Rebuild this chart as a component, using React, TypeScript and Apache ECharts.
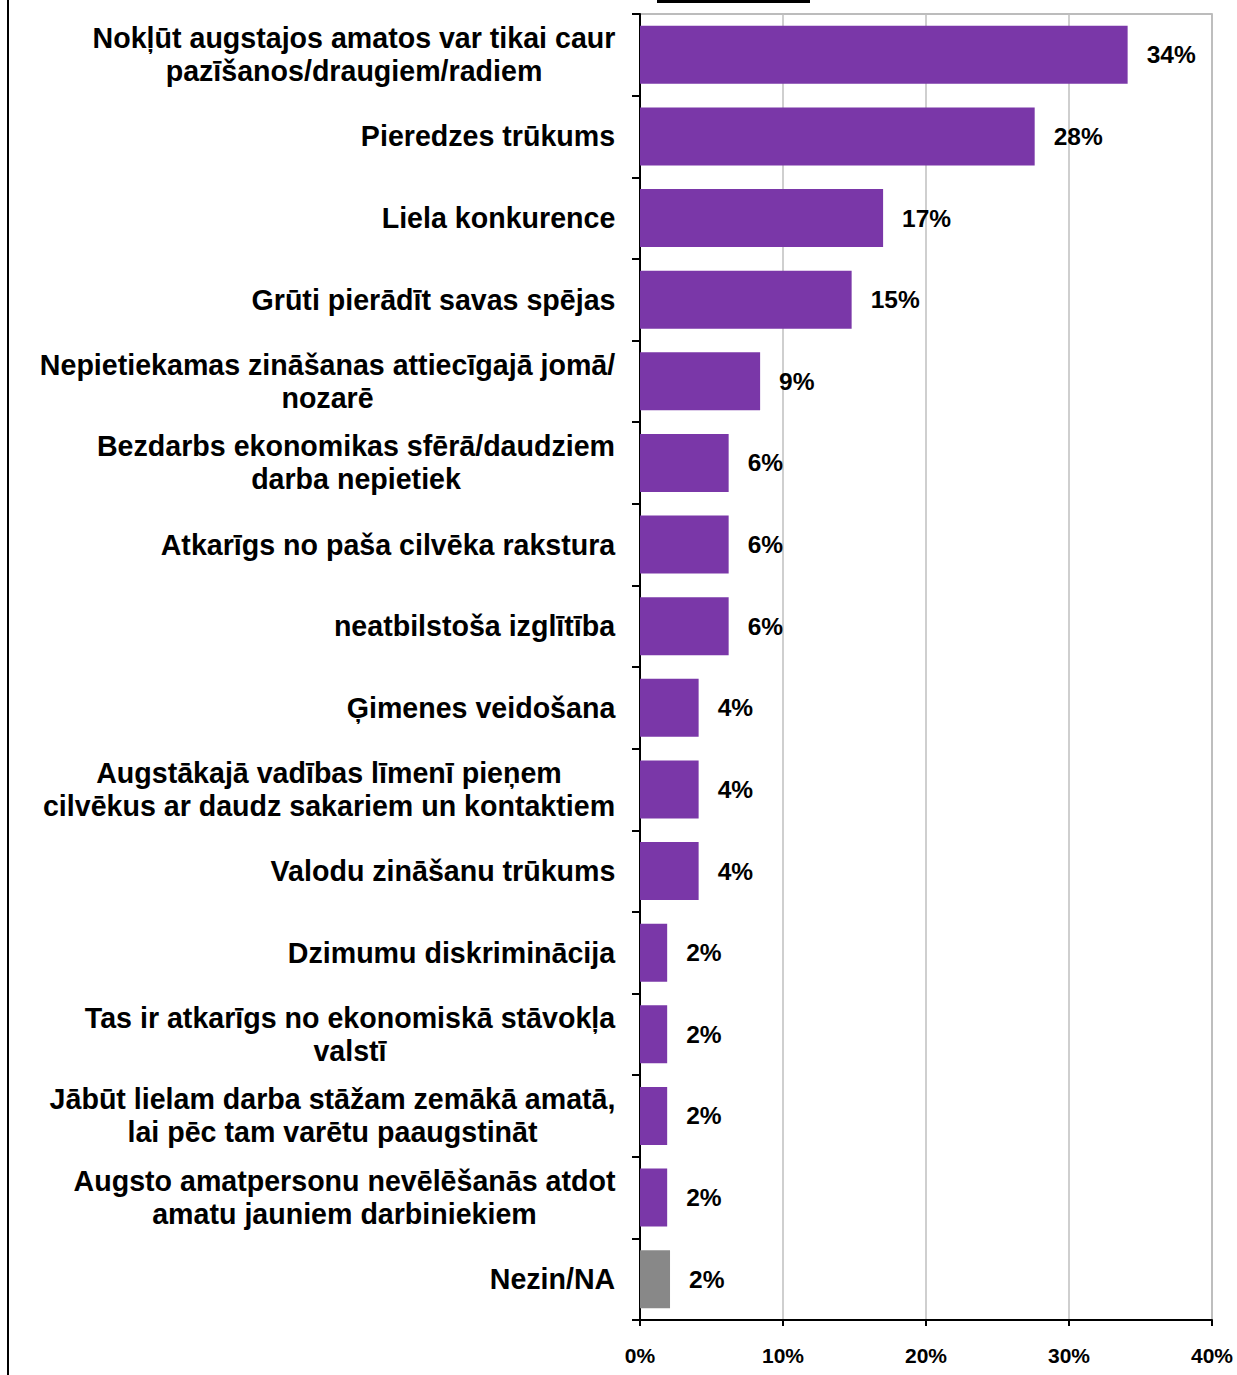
import React, { useEffect, useRef } from "react";
import * as echarts from "echarts";

const categories: string[] = [
  "Nokļūt augstajos amatos var tikai caur\npazīšanos/draugiem/radiem",
  "Pieredzes trūkums",
  "Liela konkurence",
  "Grūti pierādīt savas spējas",
  "Nepietiekamas zināšanas attiecīgajā jomā/\nnozarē",
  "Bezdarbs ekonomikas sfērā/daudziem\ndarba nepietiek",
  "Atkarīgs no paša cilvēka rakstura",
  "neatbilstoša izglītība",
  "Ģimenes veidošana",
  "Augstākajā vadības līmenī pieņem\ncilvēkus ar daudz sakariem un kontaktiem",
  "Valodu zināšanu trūkums",
  "Dzimumu diskriminācija",
  "Tas ir atkarīgs no ekonomiskā stāvokļa\nvalstī",
  "Jābūt lielam darba stāžam zemākā amatā,\nlai pēc tam varētu paaugstināt",
  "Augsto amatpersonu nevēlēšanās atdot\namatu jauniem darbiniekiem",
  "Nezin/NA",
];

const values: number[] = [34.1, 27.6, 17.0, 14.8, 8.4, 6.2, 6.2, 6.2, 4.1, 4.1, 4.1, 1.9, 1.9, 1.9, 1.9, 2.1];
const valueLabels: string[] = ["34%", "28%", "17%", "15%", "9%", "6%", "6%", "6%", "4%", "4%", "4%", "2%", "2%", "2%", "2%", "2%"];
const barColors: string[] = [
  "#7a37a8", "#7a37a8", "#7a37a8", "#7a37a8", "#7a37a8", "#7a37a8", "#7a37a8", "#7a37a8",
  "#7a37a8", "#7a37a8", "#7a37a8", "#7a37a8", "#7a37a8", "#7a37a8", "#7a37a8", "#888888",
];
const xTicks = { min: 0, max: 40, interval: 10 };

const FONT = '"Liberation Sans", Arial, sans-serif';
const CAT_SIZE = 28.6;

export default function App() {
  const ref = useRef<HTMLDivElement>(null);
  useEffect(() => {
    if (!ref.current) return;
    const chart = echarts.init(ref.current, undefined, { renderer: "svg" });

    const canvas = document.createElement("canvas");
    const ctx = canvas.getContext("2d")!;
    ctx.font = `bold ${CAT_SIZE}px ${FONT}`;
    const rich: Record<string, any> = {};
    categories.forEach((c, i) => {
      const w = Math.max(...c.split("\n").map((l) => ctx.measureText(l).width));
      rich["c" + i] = {
        width: Math.ceil(w) + 1,
        align: "center",
        fontSize: CAT_SIZE,
        fontWeight: "bold",
        fontFamily: FONT,
        color: "#000",
        lineHeight: 33,
      };
    });

    chart.setOption({
      animation: false,
      grid: {
        left: 640,
        right: 25,
        top: 14,
        bottom: 55,
        show: true,
        borderColor: "#a6a6a6",
        borderWidth: 1.5,
        containLabel: false,
      },
      xAxis: {
        type: "value",
        min: xTicks.min,
        max: xTicks.max,
        interval: xTicks.interval,
        axisLine: { show: true, lineStyle: { color: "#000", width: 2 } },
        axisTick: { show: true, length: 6, lineStyle: { color: "#000", width: 2 } },
        splitLine: { show: true, lineStyle: { color: "#bfbfbf", width: 1.5 } },
        axisLabel: {
          formatter: "{value}%",
          fontSize: 21,
          fontWeight: "bold",
          fontFamily: FONT,
          color: "#000",
          margin: 25,
        },
      },
      yAxis: {
        type: "category",
        inverse: true,
        data: categories,
        axisLine: { show: true, lineStyle: { color: "#000", width: 2 } },
        axisTick: { show: true, length: 8, alignWithLabel: false, lineStyle: { color: "#000", width: 2 } },
        axisLabel: {
          margin: 24,
          interval: 0,
          formatter: (v: string, i: number) =>
            v.split("\n").map((l) => `{c${i}|${l}}`).join("\n"),
          rich,
        },
      },
      graphic: [
        { type: "line", shape: { x1: 8, y1: 0, x2: 8, y2: 1375 }, style: { stroke: "#000", lineWidth: 2 } },
        { type: "line", shape: { x1: 657, y1: 1.5, x2: 810, y2: 1.5 }, style: { stroke: "#000", lineWidth: 3 } },
      ],
      series: [
        {
          type: "bar",
          barCategoryGap: "29%",
          data: values.map((v, i) => ({ value: v, itemStyle: { color: barColors[i] } })),
          label: {
            show: true,
            position: "right",
            distance: 19,
            formatter: (p: any) => valueLabels[p.dataIndex],
            fontSize: 24.5,
            fontWeight: "bold",
            fontFamily: FONT,
            color: "#000",
          },
        },
      ],
    });
    return () => chart.dispose();
  }, []);
  return (
    <div
      ref={ref}
      style={{ position: "absolute", left: 0, top: 0, width: 1237, height: 1375 }}
    />
  );
}
